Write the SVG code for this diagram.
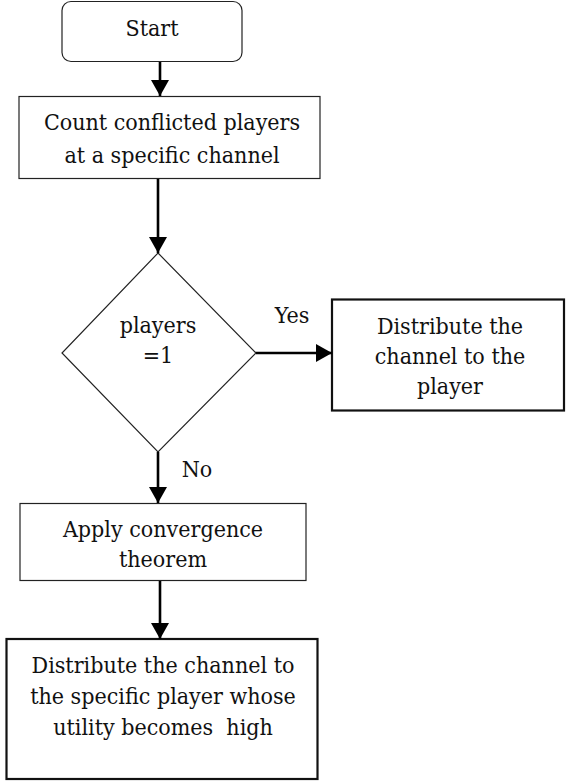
<svg xmlns="http://www.w3.org/2000/svg" width="566" height="782" viewBox="0 0 566 782">
<style>
text{font-family:'DejaVu Serif Condensed','DejaVu Serif',serif;font-stretch:condensed;font-size:23px;fill:#111;text-anchor:middle;white-space:pre}
.thin{fill:#fff;stroke:#222;stroke-width:1.2}
.thick{fill:#fff;stroke:#111;stroke-width:2.2}
.conn{stroke:#000;stroke-width:2.6;fill:none;marker-end:url(#ah)}
</style>
<defs>
<marker id="ah" markerUnits="userSpaceOnUse" markerWidth="18" markerHeight="18" viewBox="0 0 16 18" refX="16" refY="9" orient="auto">
<path d="M0,0 L16,9 L0,18 Z" fill="#000"/>
</marker>
</defs>
<g id="start">
<rect class="thin" x="62" y="1.5" width="180" height="60" rx="9"/>
<text x="152" y="36">Start</text>
</g>
<g id="count">
<rect class="thin" x="19" y="96.5" width="301" height="82"/>
<text x="172" y="130">Count conflicted players</text>
<text x="172" y="162.5">at a specific channel</text>
</g>
<g id="decision">
<polygon class="thin" points="158,253 256,353 158,452 62,353"/>
<text x="158" y="333">players</text>
<text x="158" y="363">=1</text>
</g>
<g id="distribute1">
<rect class="thick" x="332" y="299.5" width="232" height="111"/>
<text x="450" y="334">Distribute the</text>
<text x="450" y="364">channel to the</text>
<text x="450" y="394">player</text>
</g>
<g id="apply">
<rect class="thin" x="20" y="503.5" width="286" height="77"/>
<text x="163" y="537">Apply convergence</text>
<text x="163" y="567">theorem</text>
</g>
<g id="distribute2">
<rect class="thick" x="6.5" y="639" width="311" height="140"/>
<text x="163" y="673">Distribute the channel to</text>
<text x="163" y="704">the specific player whose</text>
<text x="163" y="735" xml:space="preserve">utility becomes  high</text>
</g>
<g id="connectors">
<line class="conn" x1="160" y1="62" x2="160" y2="96"/>
<line class="conn" x1="158" y1="179" x2="158" y2="253"/>
<line class="conn" x1="256" y1="353" x2="332" y2="353"/>
<line class="conn" x1="158" y1="452" x2="158" y2="503"/>
<line class="conn" x1="160" y1="581" x2="160" y2="639"/>
<text x="292" y="323">Yes</text>
<text x="197" y="477">No</text>
</g>
</svg>
